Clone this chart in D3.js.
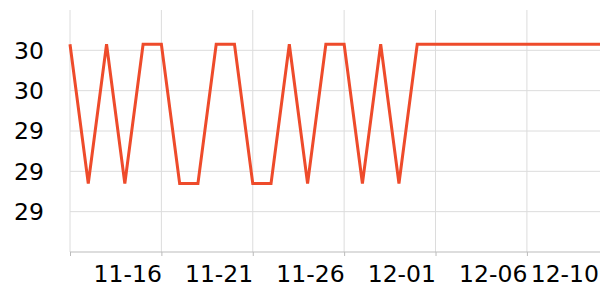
<meta charset="utf-8">
<body style="margin:0">
</body>
<script src="https://d3js.org/d3.v7.min.js"></script>
<script>
// daily readings, 11-11 .. 12-10
var dates = ["2023-11-11","2023-11-12","2023-11-13","2023-11-14","2023-11-15",
  "2023-11-16","2023-11-17","2023-11-18","2023-11-19","2023-11-20",
  "2023-11-21","2023-11-22","2023-11-23","2023-11-24","2023-11-25",
  "2023-11-26","2023-11-27","2023-11-28","2023-11-29","2023-11-30",
  "2023-12-01","2023-12-02","2023-12-03","2023-12-04","2023-12-05",
  "2023-12-06","2023-12-07","2023-12-08","2023-12-09","2023-12-10"];
var values = [29.83,29.14,29.83,29.14,29.83,
  29.83,29.14,29.14,29.83,29.83,
  29.14,29.14,29.83,29.14,29.83,
  29.83,29.14,29.83,29.14,29.83,
  29.83,29.83,29.83,29.83,29.83,
  29.83,29.83,29.83,29.83,29.83];
var yTicks = [29.0, 29.2, 29.4, 29.6, 29.8];
var xGrid = ["2023-11-11","2023-11-16","2023-11-21","2023-11-26","2023-12-01","2023-12-06"];
var xLabels = ["2023-11-16","2023-11-21","2023-11-26","2023-12-01","2023-12-06","2023-12-10"];

var parse = d3.timeParse("%Y-%m-%d");
var data = dates.map(function(d, i) { return {date: parse(d), value: values[i]}; });

var W = 600, H = 300;
var m = {left: 70, right: 600, top: 10, bottom: 252};

var svg = d3.select("body").append("svg")
  .attr("width", W)
  .attr("height", H)
  .style("display", "block");

var x = d3.scaleTime()
  .domain([parse(dates[0]), parse(dates[dates.length - 1])])
  .range([m.left, m.right]);
var y = d3.scaleLinear()
  .domain([28.8, 30.0])
  .range([m.bottom, m.top]);

// grid
svg.append("g").selectAll("line")
  .data(yTicks)
  .enter().append("line")
  .attr("x1", m.left).attr("x2", m.right)
  .attr("y1", function(d) { return y(d); })
  .attr("y2", function(d) { return y(d); })
  .attr("stroke", "#dcdcdc").attr("stroke-width", 1);

svg.append("g").selectAll("line")
  .data(xGrid.map(parse))
  .enter().append("line")
  .attr("x1", function(d) { return x(d); })
  .attr("x2", function(d) { return x(d); })
  .attr("y1", m.top).attr("y2", m.bottom)
  .attr("stroke", "#dcdcdc").attr("stroke-width", 1);

// x axis
var xAxis = d3.axisBottom(x)
  .tickValues(xGrid.map(parse))
  .tickSize(4)
  .tickFormat("");
var gx = svg.append("g")
  .attr("transform", "translate(0," + m.bottom + ")")
  .call(xAxis);
gx.select(".domain").attr("stroke", "#bbb").attr("d", "M" + m.left + ",0H" + m.right);
gx.selectAll(".tick line").attr("stroke", "#bbb");

svg.append("g").selectAll("text")
  .data(xLabels.map(parse))
  .enter().append("text")
  .attr("x", function(d) { return Math.min(x(d) + 0.5, m.right - 1); })
  .attr("y", 282)
  .attr("text-anchor", "end")
  .text(d3.timeFormat("%m-%d"));

// y labels
svg.append("g").selectAll("text")
  .data(yTicks)
  .enter().append("text")
  .attr("x", 44)
  .attr("y", function(d) { return y(d); })
  .attr("dy", "0.36em")
  .attr("text-anchor", "end")
  .text(d3.format(".0f"));

// line
var line = d3.line()
  .x(function(d) { return x(d.date); })
  .y(function(d) { return y(d.value); });

svg.append("path")
  .datum(data)
  .attr("fill", "none")
  .attr("stroke", "#ee4b2b")
  .attr("stroke-width", 3)
  .attr("stroke-linejoin", "miter")
  .attr("d", line);
</script>
<style>
svg text {
  font-family: "DejaVu Sans", sans-serif;
  font-size: 23.5px;
  fill: #000;
}
</style>
